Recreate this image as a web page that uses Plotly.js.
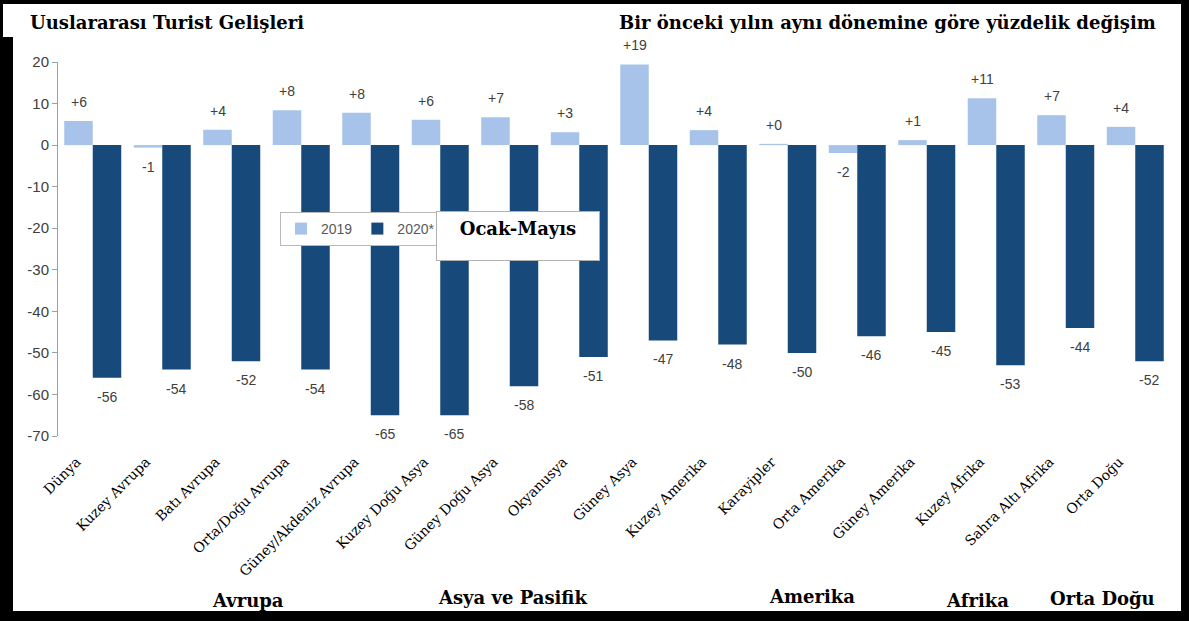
<!DOCTYPE html>
<html>
<head>
<meta charset="utf-8">
<script src="https://cdn.plot.ly/plotly-3.0.1.min.js"></script>
<style>
  html, body { margin: 0; padding: 0; background: #fff; }
  #wrap { position: relative; width: 1189px; height: 621px; overflow: hidden; }
  #chart { position: absolute; left: 0; top: 0; width: 1189px; height: 621px; }
  #frame { position: absolute; left: 0; top: 0; width: 1189px; height: 621px; box-sizing: border-box;
           border-style: solid; border-color: #000; border-width: 4px 8px 10px 3px; pointer-events: none; }
  #leftbar { position: absolute; left: 0; top: 37px; width: 13px; height: 584px; background: #000; pointer-events: none; }
</style>
</head>
<body>
<div id="wrap">
  <div id="chart"></div>
  <div id="frame"></div>
  <div id="leftbar"></div>
</div>
<script>
// ---- data ----
const categories = ['Dünya', 'Kuzey Avrupa', 'Batı Avrupa', 'Orta/Doğu Avrupa', 'Güney/Akdeniz Avrupa',
  'Kuzey Doğu Asya', 'Güney Doğu Asya', 'Okyanusya', 'Güney Asya', 'Kuzey Amerika', 'Karayipler',
  'Orta Amerika', 'Güney Amerika', 'Kuzey Afrika', 'Sahra Altı Afrika', 'Orta Doğu'];
const values2019 = [5.8, -0.6, 3.7, 8.4, 7.8, 6.1, 6.7, 3.1, 19.4, 3.6, 0.3, -1.9, 1.2, 11.3, 7.2, 4.4];
const values2020 = [-56, -54, -52, -54, -65, -65, -58, -51, -47, -48, -50, -46, -45, -53, -44, -52];
const seriesNames = ['2019', '2020*'];
const yTickVals = [20, 10, 0, -10, -20, -30, -40, -50, -60, -70];
const yTickText = ['20', '10', '0', '-10', '-20', '-30', '-40', '-50', '-60', '-70'];
const boundaryTicks = [-0.5, 0.5, 1.5, 2.5, 3.5, 4.5, 5.5, 6.5, 7.5, 8.5, 9.5, 10.5, 11.5, 12.5, 13.5, 14.5, 15.5];
const titleLeft = 'Uuslararası Turist Gelişleri';
const titleRight = 'Bir önceki yılın aynı dönemine göre yüzdelik değişim';
const periodLabel = 'Ocak-Mayıs';
const regionLabels = ['Avrupa', 'Asya ve Pasifik', 'Amerika', 'Afrika', 'Orta Doğu'];

// ---- styles ----
const lightBlue = '#a7c3ea';
const darkBlue = '#17497b';
const serif = 'DejaVu Serif, serif';
const sans = 'Liberation Sans, Arial, sans-serif';
const labelColor = '#404040';
const barHalfOffset = 14;   // px: half of a group's width, for value labels
const labelGap = 19;        // px: distance of value labels from bar ends

function signedLabel(v) {
  return (v < 0 ? '-' : '+') + Math.round(Math.abs(v));
}
function plainLabel(v) {
  return String(Math.round(v));
}

const traces = [
  { type: 'bar', name: seriesNames[0], x: categories, y: values2019, marker: { color: lightBlue }, hoverinfo: 'x+y' },
  { type: 'bar', name: seriesNames[1], x: categories, y: values2020, marker: { color: darkBlue }, hoverinfo: 'x+y' }
];

const regionX = [248, 512, 812, 977, 1102];
const regionY = [600, 597, 596, 600, 598];
const annotations = [
  { text: '<b>' + titleLeft + '</b>', xref: 'paper', yref: 'paper', x: (28 - 58) / 1112, y: 1 + (62 - 22) / 374,
    xanchor: 'left', yanchor: 'middle', showarrow: false, font: { family: serif, size: 18, color: '#000' } },
  { text: '<b>' + titleRight + '</b>', xref: 'paper', yref: 'paper', x: (1158 - 58) / 1112, y: 1 + (62 - 22) / 374,
    xanchor: 'right', yanchor: 'middle', showarrow: false, font: { family: serif, size: 18, color: '#000' } },
  { text: '<b>' + periodLabel + '</b>', xref: 'paper', yref: 'paper', x: (436 - 58) / 1112, y: 1 - (211 - 62) / 374,
    xanchor: 'left', yanchor: 'top', showarrow: false, width: 150, height: 36, valign: 'top', align: 'center',
    borderpad: 6, bordercolor: '#b0b0b0', borderwidth: 1, bgcolor: '#fff',
    font: { family: serif, size: 18, color: '#000' } }
];
regionLabels.forEach((t, i) => {
  annotations.push({ text: '<b>' + t + '</b>', xref: 'paper', yref: 'paper',
    x: (regionX[i] - 58) / 1112, y: -(regionY[i] - 436) / 374,
    xanchor: 'center', yanchor: 'middle', showarrow: false,
    font: { family: serif, size: 18, color: '#000' } });
});
// value labels, placed from the data through the axes
categories.forEach((c, i) => {
  const a = values2019[i], b = values2020[i];
  annotations.push({ x: c, y: a, xref: 'x', yref: 'y', text: signedLabel(a), showarrow: false,
    xshift: -barHalfOffset, yshift: a >= 0 ? labelGap : -labelGap,
    font: { family: sans, size: 14, color: labelColor } });
  annotations.push({ x: c, y: b, xref: 'x', yref: 'y', text: plainLabel(b), showarrow: false,
    xshift: barHalfOffset, yshift: b >= 0 ? labelGap : -labelGap,
    font: { family: sans, size: 14, color: labelColor } });
});

const layout = {
  width: 1189, height: 621,
  margin: { l: 58, r: 19, t: 62, b: 185 },
  paper_bgcolor: '#fff', plot_bgcolor: '#fff',
  barmode: 'group', bargap: 0.18, bargroupgap: 0,
  showlegend: true,
  legend: {
    orientation: 'h', x: (280 - 58) / 1112, y: 1 - (212 - 62) / 374, xanchor: 'left', yanchor: 'top',
    bgcolor: '#fff', bordercolor: '#b8b8b8', borderwidth: 1, tracegroupgap: 0,
    font: { family: sans, size: 14, color: '#595959' }, traceorder: 'normal', itemwidth: 30
  },
  font: { family: sans, color: '#000' },
  xaxis: {
    type: 'category', range: [-0.5, 15.5], tickangle: -45,
    showline: false, showgrid: false, zeroline: false, ticks: '',
    ticklabelshift: -16, ticklabelstandoff: 14,
    tickfont: { family: serif, size: 14, color: '#000' }, automargin: false
  },
  xaxis2: {
    overlaying: 'x', anchor: 'free', position: 70 / 90, range: [-0.5, 15.5],
    showline: true, linecolor: '#b0b0b0', linewidth: 1,
    tickmode: 'array', tickvals: boundaryTicks, ticks: 'outside', ticklen: 5, tickcolor: '#b0b0b0',
    showticklabels: false, showgrid: false, zeroline: false
  },
  yaxis: {
    range: [-70, 20], tickmode: 'array', tickvals: yTickVals, ticktext: yTickText,
    showline: true, linecolor: '#a0a0a0', linewidth: 1, ticks: 'outside', ticklen: 5, tickcolor: '#a0a0a0',
    showgrid: false, zeroline: false,
    tickfont: { family: sans, size: 15, color: labelColor }, automargin: false
  },
  annotations: annotations
};

Plotly.newPlot('chart', traces, layout, { displayModeBar: false, staticPlot: true });
</script>
</body>
</html>
